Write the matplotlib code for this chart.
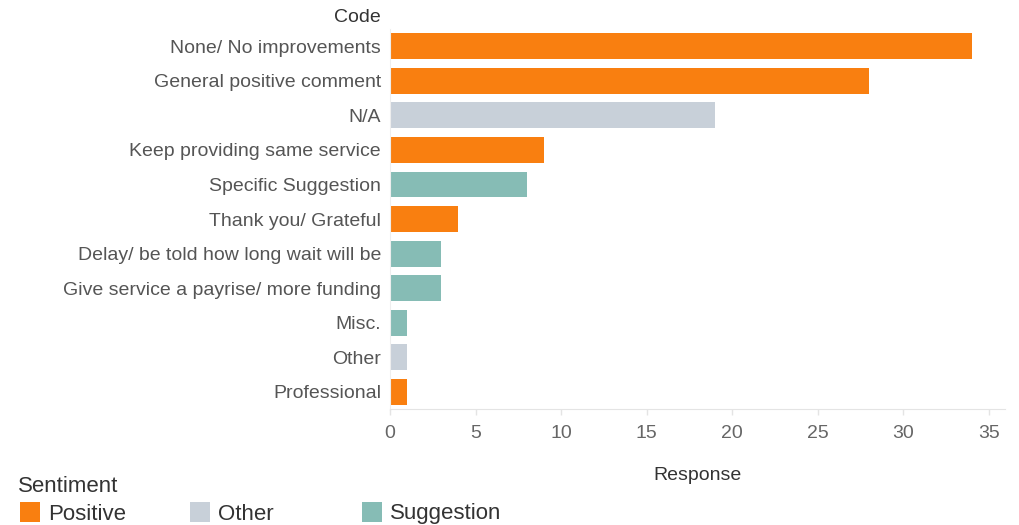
import matplotlib.pyplot as plt
from matplotlib.patches import Rectangle

plt.rcParams['font.family'] = ['Liberation Sans', 'DejaVu Sans']

codes = [
    "None/ No improvements",
    "General positive comment",
    "N/A",
    "Keep providing same service",
    "Specific Suggestion",
    "Thank you/ Grateful",
    "Delay/ be told how long wait will be",
    "Give service a payrise/ more funding",
    "Misc.",
    "Other",
    "Professional",
]
responses = [34, 28, 19, 9, 8, 4, 3, 3, 1, 1, 1]
sentiment = [
    "Positive", "Positive", "Other", "Positive", "Suggestion", "Positive",
    "Suggestion", "Suggestion", "Suggestion", "Other", "Positive",
]
sentiments = ["Positive", "Other", "Suggestion"]
palette = {"Positive": "#F97F10", "Other": "#C8D0D9", "Suggestion": "#86BCB5"}
xticks = [0, 5, 10, 15, 20, 25, 30, 35]

W, H = 1020, 525
fig = plt.figure(figsize=(W / 100, H / 100), dpi=100)
ax = fig.add_axes([390 / W, 1 - 409 / H, 615 / W, 380 / H])

ypos = list(range(len(codes)))
ax.barh(ypos, responses, height=0.75,
        color=[palette[s] for s in sentiment], zorder=2)

ax.set_ylim(len(codes) - 0.5, -0.5)
ax.set_xlim(0, 35.95)
ax.set_yticks(ypos)
ax.set_yticklabels(codes)
ax.set_xticks(xticks)

for side in ("top", "right"):
    ax.spines[side].set_visible(False)
ax.spines["left"].set_color("#EEEEEE")
ax.spines["bottom"].set_color("#E4E4E4")
ax.tick_params(axis="y", length=0, pad=6.5, labelsize=14, labelcolor="#555555")
ax.tick_params(axis="x", length=4, width=1, color="#E4E4E4", pad=7.5,
               labelsize=14, labelcolor="#666666")

ax.set_xlabel("Response", fontsize=14, color="#333333", va="center")
ax.xaxis.set_label_coords(0.5, -(475 - 409) / 380)

fig.text(381 / W, 1 - 18 / H, "Code", ha="right", va="center",
         fontsize=14, color="#333333")

# legend drawn by hand so the swatches line up in one row
fig.text(18 / W, 1 - 487 / H, "Sentiment", ha="left", va="center",
         fontsize=16, color="#333333")
for name, x0 in zip(sentiments, [20, 190, 362]):
    fig.add_artist(Rectangle((x0 / W, 1 - 522 / H), 20 / W, 20 / H,
                             transform=fig.transFigure,
                             color=palette[name], lw=0))
    fig.text((x0 + 28) / W, 1 - 514 / H, name, ha="left", va="center",
             fontsize=16, color="#333333")

fig.savefig("out.png", dpi=100)
